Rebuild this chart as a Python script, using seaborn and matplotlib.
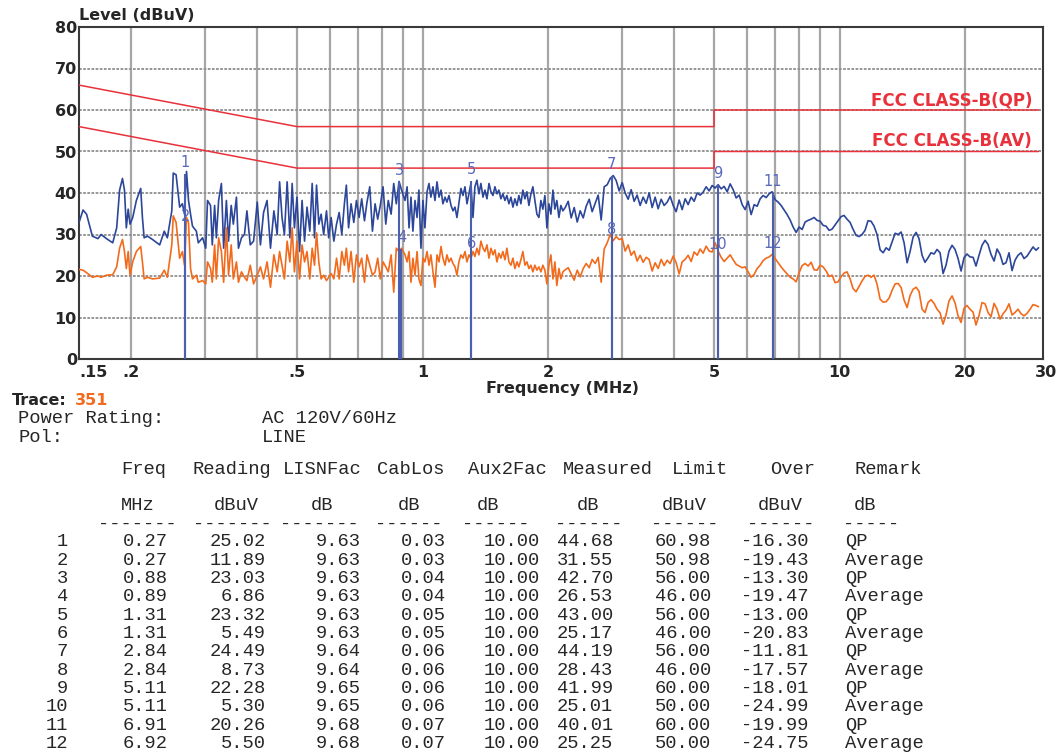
import matplotlib
matplotlib.use("Agg")
import matplotlib.pyplot as plt
import matplotlib.transforms as mtransforms
from matplotlib.ticker import FixedLocator, NullFormatter
import seaborn as sns

# sweep frequencies (MHz), shared by both scan traces
scan_freq_mhz = [
    0.150, 0.1534, 0.1564, 0.1615, 0.1665, 0.1695, 0.1746, 0.1807, 0.1847, 0.1877,
    0.1907, 0.1928, 0.1948, 0.1968, 0.1988, 0.2018, 0.2059, 0.2109, 0.2129, 0.2149,
    0.2190, 0.2251, 0.2342, 0.2402, 0.2443, 0.2504, 0.2524, 0.2564, 0.2615, 0.2655,
    0.2686, 0.2716, 0.2746, 0.2777, 0.2807, 0.2868, 0.2898, 0.2969, 0.3020, 0.3050,
    0.3101, 0.3131, 0.3172, 0.3202, 0.3243, 0.3293, 0.3334, 0.3385, 0.3425, 0.3476,
    0.3517, 0.3578, 0.3618, 0.3679, 0.3740,
    0.3791, 0.3862, 0.3933, 0.4014, 0.4085, 0.4156, 0.4237, 0.4318, 0.4400, 0.4481,
    0.4541, 0.4602, 0.4663, 0.4734, 0.4806, 0.4867, 0.4928, 0.4999, 0.5070, 0.5141,
    0.5212, 0.5283, 0.5365, 0.5436, 0.5507, 0.5568, 0.5639, 0.5711, 0.5792, 0.5883,
    0.5954, 0.6036, 0.6127, 0.6219, 0.6310, 0.6402, 0.6494, 0.6565, 0.6646, 0.6738,
    0.6840, 0.6941, 0.7043, 0.7145, 0.7256, 0.7358, 0.7470, 0.7582, 0.7694, 0.7806,
    0.7918, 0.8040, 0.8162, 0.8274, 0.8406, 0.8528, 0.8650, 0.8782, 0.8904, 0.9077,
    0.918, 0.928, 0.938, 0.948, 0.959, 0.970, 0.980, 0.991, 1.002, 1.013,
    1.025, 1.036, 1.047, 1.059, 1.071, 1.083, 1.095, 1.107, 1.119, 1.132,
    1.144, 1.157, 1.170, 1.183, 1.196, 1.209, 1.222, 1.236, 1.250, 1.264,
    1.278, 1.292, 1.306, 1.321, 1.335, 1.350, 1.365, 1.380, 1.396, 1.411,
    1.427, 1.443, 1.459, 1.475, 1.491, 1.508, 1.524, 1.541, 1.558, 1.576,
    1.593, 1.611, 1.629, 1.647, 1.665, 1.684, 1.702, 1.721, 1.740, 1.760,
    1.779, 1.799, 1.819, 1.839, 1.859, 1.880, 1.901, 1.922, 1.943, 1.965,
    1.987, 2.009, 2.031, 2.054, 2.076, 2.099, 2.123, 2.146, 2.170,
    2.198, 2.235, 2.272, 2.310, 2.349, 2.388, 2.428, 2.468, 2.510, 2.551,
    2.594, 2.637, 2.681, 2.726, 2.772, 2.818, 2.865, 2.913, 2.961, 3.011,
    3.061, 3.112, 3.164, 3.217, 3.270, 3.325, 3.380, 3.437, 3.494, 3.553,
    3.612, 3.672, 3.734, 3.796, 3.860, 3.924, 3.990, 4.056, 4.124, 4.193,
    4.263, 4.334, 4.406, 4.480, 4.555, 4.631, 4.708, 4.787, 4.867, 4.948,
    5.031, 5.115, 5.200, 5.287,
    5.376, 5.466, 5.557, 5.650, 5.744, 5.840, 5.937, 6.036, 6.137, 6.240,
    6.344, 6.450, 6.557, 6.667, 6.778, 6.891, 7.006, 7.123, 7.242, 7.363,
    7.486, 7.611, 7.738, 7.867, 7.998, 8.132, 8.268, 8.406, 8.546, 8.689,
    8.834, 8.981, 9.131, 9.284, 9.439, 9.596, 9.756, 9.919, 10.08, 10.25,
    10.42, 10.60, 10.77, 10.95, 11.14, 11.32, 11.51, 11.70, 11.90, 12.10,
    12.30, 12.51, 12.72,
    12.93, 13.15, 13.37, 13.59, 13.82, 14.05, 14.28, 14.52, 14.76, 15.01,
    15.26, 15.51, 15.77, 16.03, 16.30, 16.57, 16.85, 17.13, 17.42, 17.71,
    18.00, 18.30, 18.61, 18.92, 19.24, 19.56, 19.88, 20.21, 20.55, 20.90,
    21.24, 21.60, 21.96, 22.33, 22.70, 23.08, 23.47, 23.86, 24.26, 24.66,
    25.07, 25.49, 25.92, 26.35, 26.79, 27.24, 27.69, 28.16, 28.63, 29.10,
    29.59, 30.0,
]

# blue scan (peak detector), dBuV
peak_dbuv = [
    32.9, 35.9, 34.9, 29.6, 29.0, 30.0, 29.0, 28.0, 31.6, 40.7,
    43.5, 40.7, 31.6, 36.1, 32.5, 34.1, 38.2, 41.1, 34.1, 29.2,
    29.6, 28.8, 27.5, 30.8, 29.2, 35.7, 44.8, 44.4, 36.6, 37.4,
    34.9, 45.2, 38.2, 34.9, 32.0, 30.8, 28.0, 29.2, 26.7, 38.2,
    37.0, 27.5, 37.0, 29.2, 38.2, 42.3, 26.7, 38.2, 28.4, 37.0,
    32.5, 39.0, 26.7, 29.2, 30.0,
    35.7, 27.5, 28.4, 37.8, 27.5, 35.3, 38.2, 26.7, 35.7, 30.0,
    42.7, 34.1, 30.0, 42.7, 29.2, 42.3, 31.6, 39.0, 25.9, 38.2,
    28.4, 36.6, 30.8, 42.3, 29.2, 41.9, 32.5, 34.9, 30.0, 35.7,
    29.2, 34.1, 28.4, 32.5, 35.3, 30.0, 37.4, 41.9, 31.6, 37.4,
    32.9, 38.2, 34.1, 38.6, 33.3, 37.8, 41.5, 30.8, 37.4, 33.7,
    37.0, 41.5, 32.5, 38.2, 34.9, 42.3, 37.4, 42.8, 40.7, 38.2,
    41.5, 31.6, 39.0, 30.8, 38.2, 34.1, 40.7, 26.7, 38.2, 31.6,
    40.3, 42.3, 39.0, 41.5, 38.2, 42.7, 39.0, 40.7, 37.4, 39.0,
    37.8, 39.4, 37.0, 35.7, 36.6, 34.1, 37.4, 41.1, 39.4, 41.5,
    37.4, 39.8, 42.3, 34.1, 41.5, 43.1, 39.8, 42.3, 39.0, 40.7,
    38.6, 42.3, 40.3, 39.4, 41.5, 39.8, 40.7, 38.6, 39.8, 38.2,
    39.4, 37.4, 39.0, 36.6, 38.6, 37.0, 39.4, 37.4, 40.7, 38.6,
    40.3, 37.0, 39.8, 41.5, 38.2, 34.9, 34.1, 38.2, 36.1, 39.4,
    31.6, 37.4, 34.9, 40.7, 36.1, 38.2, 34.1, 37.0, 35.7,
    36.5, 38.0, 34.0, 36.5, 33.0, 35.7, 34.0, 36.8, 38.5, 35.5,
    37.5, 39.5, 33.5, 41.5, 42.0, 43.5, 44.2, 43.0, 40.5, 42.5,
    40.0, 38.5, 40.8, 38.0, 39.5, 37.0, 39.0, 37.5, 40.0, 36.5,
    39.0, 36.2, 38.5, 37.0, 37.8, 39.2, 37.0, 35.5, 38.3, 36.0,
    38.6, 37.2, 39.0, 38.0, 40.0, 39.5, 40.2, 41.5, 40.5, 41.8,
    41.2, 42.0, 41.0, 41.6,
    40.3, 42.2, 40.8, 38.8, 39.5, 37.2, 36.0, 38.0, 34.8, 37.2,
    36.8, 38.6, 39.4, 38.9, 39.8, 40.3, 38.4, 37.8, 37.0, 35.9,
    34.8, 33.5, 31.8, 30.5, 31.8, 31.2, 33.0, 33.4, 33.7, 34.1,
    33.4, 33.2, 32.2, 32.0, 31.0, 31.3, 32.3, 33.3, 34.3, 34.6,
    33.7, 32.9, 31.3, 29.8, 29.5, 30.0, 31.0, 33.3, 33.2, 32.0,
    30.0, 26.3, 25.6,
    26.8, 26.2, 28.3, 30.3, 30.0, 30.6, 28.0, 23.2, 25.9, 29.4,
    30.5, 29.0, 25.0, 23.3, 24.4, 25.6, 25.3, 26.4, 25.6, 20.6,
    22.6, 26.0, 27.4, 26.4, 24.2, 21.2, 24.4, 25.3, 24.6, 24.5,
    22.4, 25.0, 27.4, 28.6, 27.6, 25.2, 23.6, 26.5, 25.2, 22.8,
    23.2, 25.6, 21.3, 23.8, 25.0, 25.6, 24.2, 24.8, 25.9, 27.0,
    26.2, 26.8,
]

# orange scan (average detector), dBuV
avg_dbuv = [
    21.6, 21.4, 20.8, 19.7, 20.0, 19.7, 20.2, 20.3, 22.2, 26.7,
    28.8, 25.9, 21.8, 25.9, 20.2, 23.4, 25.9, 27.1, 23.4, 19.3,
    19.7, 19.3, 19.5, 21.4, 19.7, 27.5, 34.5, 32.9, 24.3, 25.9,
    22.6, 34.1, 32.9, 21.8, 19.3, 20.2, 18.5, 18.9, 18.1, 23.4,
    21.8, 18.5, 27.5, 19.3, 29.2, 25.9, 18.5, 31.6, 20.2, 27.5,
    19.3, 23.4, 18.5, 21.0, 19.7,
    18.9, 22.6, 18.1, 20.2, 22.2, 19.3, 23.4, 17.3, 25.1, 21.0,
    25.9, 22.6, 19.3, 28.4, 23.4, 31.6, 21.0, 28.4, 19.3, 27.5,
    23.4, 25.9, 19.3, 26.7, 22.6, 30.4, 23.4, 19.3, 20.2, 18.9,
    19.7, 20.6, 19.3, 24.3, 19.3, 25.9, 22.6, 26.7, 21.0, 25.9,
    18.5, 25.1, 22.2, 24.3, 18.5, 25.1, 22.6, 20.2, 21.0, 24.3,
    19.3, 23.4, 22.2, 21.0, 25.1, 16.1, 26.7, 25.9, 26.7, 25.1,
    23.4, 25.9, 18.5, 24.3, 20.2, 25.9, 19.3, 17.7, 24.3, 23.4,
    25.9, 22.6, 25.1, 21.0, 17.3, 25.1, 23.4, 27.1, 24.3, 22.6,
    25.1, 23.4, 24.3, 23.0, 22.2, 20.2, 23.4, 25.1, 24.3, 25.9,
    23.4, 25.1, 24.3, 25.9, 24.7, 26.7, 25.1, 28.4, 26.7, 25.9,
    27.5, 24.3, 26.7, 25.1, 26.3, 23.4, 25.5, 24.3, 25.9, 23.9,
    26.7, 23.4, 22.6, 24.3, 21.8, 23.4, 22.2, 23.9, 25.9, 22.6,
    23.4, 21.8, 22.6, 21.0, 22.6, 21.4, 22.2, 21.0, 22.6, 21.4,
    18.1, 22.6, 25.1, 19.3, 23.4, 17.7, 21.8, 19.3, 21.0,
    21.5, 22.0, 20.5, 19.0, 21.4, 19.8, 21.8, 23.0, 22.0, 24.0,
    23.0, 24.5, 18.5, 26.5, 28.0, 30.0, 28.5, 29.5, 28.8, 29.0,
    26.0, 27.5, 25.0, 26.0, 23.6, 25.0, 23.3, 24.5, 24.0, 21.2,
    23.2, 21.8, 24.0, 22.5, 23.8, 23.0, 24.8, 23.2, 20.5, 23.4,
    24.0, 25.0, 23.5, 25.8, 25.0, 26.5, 25.5, 27.2, 26.0, 25.8,
    28.0, 26.0, 24.5, 23.5,
    24.3, 25.1, 23.9, 22.8, 22.4, 22.0, 22.2, 21.0, 19.7, 20.4,
    21.8, 22.6, 23.7, 24.3, 24.6, 25.2, 24.2, 23.2, 22.2, 21.3,
    20.5, 19.7, 19.3, 18.6, 20.8, 22.5, 23.0, 22.4, 23.3, 21.5,
    21.4, 22.6, 22.2, 21.2, 19.9, 20.2, 18.4, 18.6, 19.8, 20.7,
    21.0, 19.3, 17.0, 16.2, 17.5, 18.8, 19.9, 20.2, 19.7, 20.2,
    18.0, 14.4, 13.7,
    13.8, 14.7, 16.6, 18.1, 18.2, 17.2, 14.2, 12.4, 15.3, 16.8,
    17.3, 16.3, 12.0, 11.2, 13.6, 14.3, 13.4, 12.0, 11.1, 8.4,
    10.6, 14.0, 15.2, 13.5, 10.4, 8.8, 12.2, 12.9, 12.0, 11.3,
    8.2, 10.5, 13.6, 13.3, 11.2, 10.2, 13.4, 12.0, 9.6, 10.9,
    11.8, 13.3, 10.6, 11.2, 12.0, 10.9, 10.4, 11.0, 12.0, 13.1,
    12.9, 12.6,
]

# FCC class B limits
limit_freq_mhz = [0.15, 0.5, 5.0, 5.0, 30.0]
limit_qp_dbuv = [66, 56, 56, 60, 60]
limit_av_dbuv = [56, 46, 46, 50, 50]

# measured points table
marker_no = [1, 2, 3, 4, 5, 6, 7, 8, 9, 10, 11, 12]
marker_freq = [0.27, 0.27, 0.88, 0.89, 1.31, 1.31, 2.84, 2.84, 5.11, 5.11, 6.91, 6.92]
reading = [25.02, 11.89, 23.03, 6.86, 23.32, 5.49, 24.49, 8.73, 22.28, 5.30, 20.26, 5.50]
lisn_fac = [9.63, 9.63, 9.63, 9.63, 9.63, 9.63, 9.64, 9.64, 9.65, 9.65, 9.68, 9.68]
cab_loss = [0.03, 0.03, 0.04, 0.04, 0.05, 0.05, 0.06, 0.06, 0.06, 0.06, 0.07, 0.07]
aux2_fac = [10.00, 10.00, 10.00, 10.00, 10.00, 10.00, 10.00, 10.00, 10.00, 10.00, 10.00, 10.00]
measured = [44.68, 31.55, 42.70, 26.53, 43.00, 25.17, 44.19, 28.43, 41.99, 25.01, 40.01, 25.25]
limit = [60.98, 50.98, 56.00, 46.00, 56.00, 46.00, 56.00, 46.00, 60.00, 50.00, 60.00, 50.00]
over = [-16.30, -19.43, -13.30, -19.47, -13.00, -20.83, -11.81, -17.57, -18.01, -24.99, -19.99, -24.75]
remark = ["QP", "Average", "QP", "Average", "QP", "Average",
          "QP", "Average", "QP", "Average", "QP", "Average"]

x_ticks = [0.15, 0.2, 0.5, 1, 2, 5, 10, 20, 30]
x_tick_labels = [".15", ".2", ".5", "1", "2", "5", "10", "20", "30"]
x_grid = [0.2, 0.3, 0.4, 0.5, 0.6, 0.7, 0.8, 0.9, 1, 2, 3, 4, 5, 6, 7, 8, 9, 10, 20]

assert len(scan_freq_mhz) == len(peak_dbuv) == len(avg_dbuv)

BLUE = "#2c4699"
ORANGE = "#f26b1d"
RED = "#e8313a"
MARK = "#4a5fb0"
LABEL = "#5a69b8"

sns.set_style("white")
plt.rcParams["font.family"] = ["DejaVu Sans"]

W, H = 1064, 754
fig = plt.figure(figsize=(W / 100, H / 100), dpi=100)
ax = fig.add_axes([79 / W, 1 - 359 / H, 964 / W, 332 / H])

sns.lineplot(x=scan_freq_mhz, y=peak_dbuv, ax=ax, color=BLUE, lw=1.2,
             estimator=None, sort=False, zorder=3)
sns.lineplot(x=scan_freq_mhz, y=avg_dbuv, ax=ax, color=ORANGE, lw=1.2,
             estimator=None, sort=False, zorder=3)
sns.lineplot(x=limit_freq_mhz, y=limit_qp_dbuv, ax=ax, color=RED, lw=1.1,
             estimator=None, sort=False, zorder=4)
sns.lineplot(x=limit_freq_mhz, y=limit_av_dbuv, ax=ax, color=RED, lw=1.1,
             estimator=None, sort=False, zorder=4)

ax.vlines(marker_freq, 0, measured, color=MARK, lw=1.5, zorder=5)
for n, f, m in zip(marker_no, marker_freq, measured):
    ax.annotate(str(n), (f, m), xytext=(0, 8), textcoords="offset points",
                ha="center", va="center", color=LABEL, fontsize=10.5, zorder=6)

ax.text(0.9886, 62.4, "FCC CLASS-B(QP)", transform=ax.get_yaxis_transform(),
        ha="right", va="center", color=RED, fontsize=12, fontweight="bold")
ax.text(0.9886, 52.5, "FCC CLASS-B(AV)", transform=ax.get_yaxis_transform(),
        ha="right", va="center", color=RED, fontsize=12, fontweight="bold")

ax.set_xscale("log")
ax.set_xlim(0.15, 30.75)
ax.set_ylim(0, 80)
ax.set_xlabel("")
ax.set_ylabel("")
ax.set_xticks(x_ticks, labels=x_tick_labels)
ax.xaxis.set_minor_locator(FixedLocator(x_grid))
ax.xaxis.set_minor_formatter(NullFormatter())
ax.xaxis.remove_overlapping_locs = False
ax.set_yticks(range(0, 81, 10))

ax.grid(False)
ax.grid(which="minor", axis="x", color="#a6a6a6", lw=1.6, zorder=0)
ax.grid(which="major", axis="y", color="#8f8f8f", lw=1.3, ls=(0, (1.5, 0.8)), zorder=0)
ax.set_axisbelow(True)

ax.tick_params(which="both", length=0)
ax.tick_params(axis="x", pad=4, labelsize=11.5)
ax.tick_params(axis="y", pad=1.5, labelsize=11.5)
for lbl in ax.get_xticklabels() + ax.get_yticklabels():
    lbl.set_fontweight("bold")
xlabels = ax.get_xticklabels()
xlabels[0].set_ha("left")
xlabels[-1].set_transform(xlabels[-1].get_transform()
                          + mtransforms.ScaledTranslation(0.07, 0, fig.dpi_scale_trans))

for side in ["left", "right", "top", "bottom"]:
    ax.spines[side].set_visible(True)
    ax.spines[side].set_color("#3a3a3a")
    ax.spines[side].set_linewidth(1.5)


def fig_text(x, y, s, **kw):
    fig.text(x / W, 1 - y / H, s, **kw)


fig_text(79, 16, "Level (dBuV)", ha="left", va="center", fontsize=11.5, fontweight="bold")
fig_text(562, 389, "Frequency (MHz)", ha="center", va="center", fontsize=11.5, fontweight="bold")
fig_text(12, 400, "Trace:", ha="left", va="center", fontsize=11.5, fontweight="bold")
fig_text(75, 400, "351", ha="left", va="center", fontsize=11.5, fontweight="bold", color=ORANGE)

mono = dict(family=["Liberation Mono", "DejaVu Sans Mono"], fontsize=13.5, va="center")
fig_text(18, 418, "Power Rating:", ha="left", **mono)
fig_text(262, 418, "AC 120V/60Hz", ha="left", **mono)
fig_text(18, 438, "Pol:", ha="left", **mono)
fig_text(262, 438, "LINE", ha="left", **mono)

header = [("Freq", 121), ("Reading", 193), ("LISNFac", 283), ("CabLos", 377),
          ("Aux2Fac", 468), ("Measured", 563), ("Limit", 672), ("Over", 770), ("Remark", 854)]
units = [("MHz", 121), ("dBuV", 214), ("dB", 311), ("dB", 398), ("dB", 477),
         ("dB", 577), ("dBuV", 662), ("dBuV", 758), ("dB", 854)]
dashes = [("-------", 98), ("-------", 193), ("-------", 280), ("------", 375),
          ("------", 462), ("------", 555), ("------", 651), ("------", 747), ("-----", 843)]
for s, x in header:
    fig_text(x, 469, s, ha="left", **mono)
for s, x in units:
    fig_text(x, 506, s, ha="left", **mono)
for s, x in dashes:
    fig_text(x, 524, s, ha="left", **mono)

col_right = [68, 168, 266, 361, 446, 540, 613, 711, 808]
for i in range(len(marker_no)):
    y = 541.7 + 18.33 * i
    cells = [str(marker_no[i]), f"{marker_freq[i]:.2f}", f"{reading[i]:.2f}",
             f"{lisn_fac[i]:.2f}", f"{cab_loss[i]:.2f}", f"{aux2_fac[i]:.2f}",
             f"{measured[i]:.2f}", f"{limit[i]:.2f}", f"{over[i]:.2f}"]
    for s, xr in zip(cells, col_right):
        fig_text(xr, y, s, ha="right", **mono)
    fig_text(845, y, remark[i], ha="left", **mono)

fig.savefig("out.png", dpi=100, facecolor="white")
